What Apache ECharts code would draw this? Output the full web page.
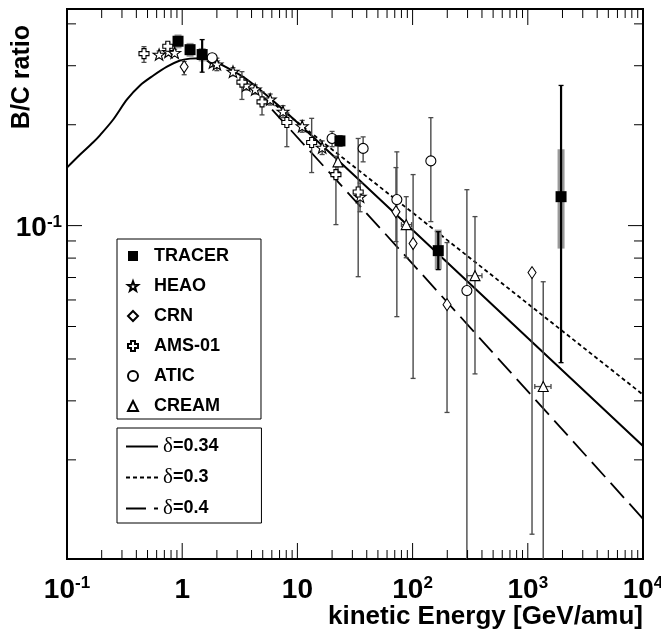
<!DOCTYPE html>
<html><head><meta charset="utf-8">
<script src="https://cdn.jsdelivr.net/npm/echarts@6/dist/echarts.min.js"></script>
<style>html,body{margin:0;padding:0;background:#fff}#c{width:661px;height:635px}</style>
</head><body><div id="c"></div>
<script>
const FONT = '"Liberation Sans", Arial, Helvetica, sans-serif';

// ---- axis ticks and labels ----
const xMajorTicks = [0.1, 1, 10, 100, 1000, 10000];
const xTickLabels = ['{b|10}{s|-1}', '{b|1}', '{b|10}', '{b|10}{s|2}', '{b|10}{s|3}', '{b|10}{s|4}'];
const xMinorTicks = [0.2,0.3,0.4,0.5,0.6,0.7,0.8,0.9, 2,3,4,5,6,7,8,9, 20,30,40,50,60,70,80,90,
  200,300,400,500,600,700,800,900, 2000,3000,4000,5000,6000,7000,8000,9000];
const yMajorTicks = [0.1];
const yTickLabels = ['{b|10}{s|-1}'];
const yMinorTicks = [0.02,0.03,0.04,0.05,0.06,0.07,0.08,0.09,0.2,0.3,0.4];

// ---- TRACER ----
const tracerE     = [0.92, 1.17, 1.49, 23.4, 167, 1944];
const tracerR     = [0.355, 0.335, 0.324, 0.179, 0.0842, 0.122];
const tracerStatLo = [0.347, 0.327, 0.287, 0.173, 0.0739, 0.039];
const tracerStatHi = [0.363, 0.343, 0.359, 0.185, 0.0959, 0.262];
const tracerSysLo  = [0.338, 0.319, 0.309, 0.172, 0.0739, 0.0854];
const tracerSysHi  = [0.372, 0.351, 0.339, 0.186, 0.0973, 0.169];

// ---- HEAO ----
const heaoE  = [0.63, 0.76, 0.86, 1.85, 2.0, 2.76, 3.6, 4.3, 5.8, 7.5, 11.0, 16.4, 35];
const heaoR  = [0.324, 0.330, 0.328, 0.307, 0.303, 0.288, 0.262, 0.255, 0.238, 0.219, 0.198, 0.171, 0.122];
const heaoLo = [0.316, 0.322, 0.320, 0.298, 0.290, 0.280, 0.254, 0.247, 0.229, 0.210, 0.190, 0.163, 0.110];
const heaoHi = [0.332, 0.338, 0.336, 0.316, 0.316, 0.296, 0.270, 0.263, 0.247, 0.228, 0.206, 0.179, 0.134];

// ---- CRN ----
const crnE  = [1.04, 71.7, 101, 199, 1088];
const crnR  = [0.298, 0.110, 0.0884, 0.0581, 0.0724];
const crnLo = [0.282, 0.0896, 0.0350, 0.0277, 0.0120];
const crnHi = [0.309, 0.149, 0.142, 0.0890, 0.0724];

// ---- AMS-01 ----
const amsE  = [0.466, 0.75, 3.3, 4.93, 8.1, 13.3, 21.6, 33.7];
const amsR  = [0.326, 0.343, 0.268, 0.234, 0.203, 0.177, 0.142, 0.126];
const amsLo = [0.307, 0.332, 0.238, 0.214, 0.172, 0.144, 0.1007, 0.0704];
const amsHi = [0.342, 0.351, 0.288, 0.251, 0.217, 0.209, 0.161, 0.182];

// ---- ATIC ----
const aticE  = [1.82, 20.0, 37.2, 73.0, 144, 296];
const aticR  = [0.317, 0.182, 0.170, 0.1196, 0.156, 0.064];
const aticLo = [0.309, 0.172, 0.155, 0.0535, 0.1028, 0.005];
const aticHi = [0.326, 0.191, 0.184, 0.166, 0.210, 0.128];

// ---- CREAM ----
const creamE   = [22.5, 88, 348, 1361];
const creamR   = [0.155, 0.1007, 0.0709, 0.0331];
const creamLo  = [0.145, 0.0802, 0.0361, 0.005];
const creamHi  = [0.174, 0.122, 0.1064, 0.068];
const creamELo = [0, 80, 296, 1150];
const creamEHi = [0, 98, 400, 1590];

// ---- model curves ----
const model034E = [0.1, 0.13, 0.168, 0.193, 0.251, 0.332, 0.43, 0.558, 0.738, 0.957, 1.17, 1.43, 1.74, 2.45, 3.65, 6.14, 10.5, 100, 1000, 10000];
const model034R = [0.149, 0.163, 0.177, 0.186, 0.207, 0.238, 0.262, 0.280, 0.298, 0.311, 0.315, 0.316, 0.313, 0.296, 0.273, 0.236, 0.200, 0.0970, 0.0462, 0.0220];
const model030E = [5.78, 100, 10000];
const model030R = [0.236, 0.1093, 0.0313];
const model040E = [6.03, 100, 10000];
const model040R = [0.222, 0.0769, 0.01334];

function zip(...cols) { return cols[0].map((_, i) => cols.map(c => c[i])); }

const STAR = 'path://M50,0 L61.76,33.82 L97.55,34.55 L69.02,56.18 L79.39,90.45 L50,70 L20.61,90.45 L30.98,56.18 L2.45,34.55 L38.24,33.82 Z';
const CROSS = 'path://M3,0H7V3H10V7H7V10H3V7H0V3H3Z';

function errRender(color, width, cap) {
  return function (params, api) {
    const cs = params.coordSys;
    const top = cs.y, bot = cs.y + cs.height;
    const xv = api.value(0);
    const p = api.coord([xv, api.value(1)]);
    const pHi = api.coord([xv, api.value(3)]);
    const pLo = api.coord([xv, api.value(2)]);
    const y1 = Math.max(top, pHi[1]), y2 = Math.min(bot, pLo[1]);
    const st = { stroke: color, lineWidth: width };
    const ch = [{ type: 'line', shape: { x1: p[0], y1: y1, x2: p[0], y2: y2 }, style: st }];
    if (cap) {
      const cst = { stroke: color, lineWidth: 1.3 };
      if (pHi[1] >= top && pHi[1] < p[1] - 1) ch.push({ type: 'line', shape: { x1: p[0] - cap, y1: pHi[1], x2: p[0] + cap, y2: pHi[1] }, style: cst });
      if (pLo[1] <= bot && pLo[1] > p[1] + 1) ch.push({ type: 'line', shape: { x1: p[0] - cap, y1: pLo[1], x2: p[0] + cap, y2: pLo[1] }, style: cst });
    }
    const xl = api.value(4), xh = api.value(5);
    if (xl > 0 && xh > 0) {
      const a = api.coord([xl, api.value(1)]), b = api.coord([xh, api.value(1)]);
      const hs = { stroke: color, lineWidth: 1.3 };
      ch.push({ type: 'line', shape: { x1: a[0], y1: a[1], x2: b[0], y2: b[1] }, style: hs });
      ch.push({ type: 'line', shape: { x1: a[0], y1: a[1] - 2.5, x2: a[0], y2: a[1] + 2.5 }, style: hs });
      ch.push({ type: 'line', shape: { x1: b[0], y1: b[1] - 2.5, x2: b[0], y2: b[1] + 2.5 }, style: hs });
    }
    return { type: 'group', children: ch };
  };
}

function errSeries(name, data, color, width, cap, z) {
  return {
    type: 'custom', name: name, data: data, z: z, silent: true,
    dimensions: ['e', 'r', 'lo', 'hi', 'elo', 'ehi'],
    encode: { x: 0, y: 1 },
    renderItem: errRender(color, width, cap)
  };
}

function markSeries(name, e, r, symbol, size, fill) {
  return {
    type: 'scatter', name: name, data: zip(e, r), symbol: symbol, symbolSize: size, z: 6, silent: true,
    symbolKeepAspect: true,
    itemStyle: { color: fill, borderColor: '#000', borderWidth: fill === '#000' ? 0 : 1.1, opacity: 1 }
  };
}

const GRAY = '#4a4a4a';
const zeros = n => new Array(n).fill(0);

const chart = echarts.init(document.getElementById('c'));
chart.setOption({
  animation: false,
  backgroundColor: '#fff',
  grid: { left: 67, top: 9, width: 576, height: 550, show: true, borderColor: '#000', borderWidth: 2,
          backgroundColor: 'transparent', containLabel: false, outerBoundsMode: 'none' },
  xAxis: {
    type: 'log', logBase: 10, min: 0.1, max: 10000,
    axisLine: { show: false }, axisTick: { show: false }, splitLine: { show: false }, minorTick: { show: false },
    axisLabel: {
      margin: 16, showMinLabel: true, showMaxLabel: true, hideOverlap: false,
      formatter: v => { const i = xMajorTicks.findIndex(t => Math.abs(Math.log10(t) - Math.log10(v)) < 1e-6); return i >= 0 ? xTickLabels[i] : ''; },
      rich: {
        b: { fontSize: 28, fontWeight: 'bold', fontFamily: FONT, lineHeight: 30, color: '#000' },
        s: { fontSize: 17, fontWeight: 'bold', fontFamily: FONT, lineHeight: 10, verticalAlign: 'top', color: '#000' }
      }
    },
    name: 'kinetic Energy [GeV/amu]', nameLocation: 'end', nameGap: 0, nameMoveOverlap: false,
    nameTextStyle: { fontSize: 26, fontWeight: 'bold', fontFamily: FONT, color: '#000', align: 'right', verticalAlign: 'top', padding: [45, 0, 0, 0] }
  },
  yAxis: {
    type: 'log', logBase: 10, min: 0.01012, max: 0.443,
    axisLine: { show: false }, axisTick: { show: false }, splitLine: { show: false }, minorTick: { show: false },
    axisLabel: {
      margin: 5, padding: [6, 0, 0, 0], showMinLabel: true, showMaxLabel: true, hideOverlap: false,
      formatter: v => { const i = yMajorTicks.findIndex(t => Math.abs(Math.log10(t) - Math.log10(v)) < 1e-6); return i >= 0 ? yTickLabels[i] : ''; },
      rich: {
        b: { fontSize: 28, fontWeight: 'bold', fontFamily: FONT, lineHeight: 30, color: '#000' },
        s: { fontSize: 17, fontWeight: 'bold', fontFamily: FONT, lineHeight: 10, verticalAlign: 'top', color: '#000' }
      }
    },
    name: 'B/C ratio', nameLocation: 'end', nameRotate: 90, nameGap: -16, nameMoveOverlap: false,
    nameTextStyle: { fontSize: 25, fontWeight: 'bold', fontFamily: FONT, color: '#000', align: 'right', verticalAlign: 'bottom', padding: [0, 0, 32, 0] }
  },
  legend: [
    {
      data: ['TRACER', 'HEAO', 'CRN', 'AMS-01', 'ATIC', 'CREAM'],
      orient: 'vertical', left: 117, top: 239, itemWidth: 10, itemHeight: 10, itemGap: 10,
      padding: [7, 32, 3, 10], borderColor: '#000', borderWidth: 1, selectedMode: false, symbolKeepAspect: true,
      formatter: n => '{t|' + n + '}',
      textStyle: {
        fontSize: 18, lineHeight: 20, color: '#000',
        rich: { t: { fontSize: 18, fontWeight: 'bold', fontFamily: FONT, lineHeight: 20, color: '#000', padding: [0, 0, 0, 11] } }
      }
    },
    {
      data: ['δ=0.34', 'δ=0.3', 'δ=0.4'],
      orient: 'vertical', left: 117, top: 428, itemWidth: 32, itemHeight: 10, itemGap: 10,
      padding: [8, 43, 4, 8], borderColor: '#000', borderWidth: 1, selectedMode: false,
      itemStyle: { opacity: 0 },
      lineStyle: { opacity: 1 },
      formatter: n => '{d|δ}{v|' + n.slice(1) + '}',
      textStyle: {
        fontSize: 18, lineHeight: 20, color: '#000',
        rich: {
          d: { fontSize: 21, fontFamily: '"Liberation Serif", "DejaVu Serif", serif', color: '#000', lineHeight: 20 },
          v: { fontSize: 18, fontWeight: 'bold', fontFamily: FONT, color: '#000', lineHeight: 20 }
        }
      }
    }
  ],
  series: [
    // frame ticks
    {
      type: 'custom', name: 'xticks', silent: true, z: 10,
      data: xMajorTicks.map(v => [v, 0.1, 1]).concat(xMinorTicks.map(v => [v, 0.1, 0])),
      encode: { x: 0, y: 1 },
      renderItem: (params, api) => {
        const cs = params.coordSys; const x = api.coord([api.value(0), 0.1])[0]; const L = api.value(2) ? 16 : 9;
        const st = { stroke: '#000', lineWidth: 1 };
        return { type: 'group', children: [
          { type: 'line', shape: { x1: x, y1: cs.y + cs.height, x2: x, y2: cs.y + cs.height - L }, style: st },
          { type: 'line', shape: { x1: x, y1: cs.y, x2: x, y2: cs.y + L }, style: st }
        ] };
      }
    },
    {
      type: 'custom', name: 'yticks', silent: true, z: 10,
      data: yMajorTicks.map(v => [1, v, 1]).concat(yMinorTicks.map(v => [1, v, 0])),
      encode: { x: 0, y: 1 },
      renderItem: (params, api) => {
        const cs = params.coordSys; const y = api.coord([1, api.value(1)])[1]; const L = api.value(2) ? 15 : 9;
        const st = { stroke: '#000', lineWidth: 1 };
        return { type: 'group', children: [
          { type: 'line', shape: { x1: cs.x, y1: y, x2: cs.x + L, y2: y }, style: st },
          { type: 'line', shape: { x1: cs.x + cs.width, y1: y, x2: cs.x + cs.width - L, y2: y }, style: st }
        ] };
      }
    },
    // model curves
    { type: 'line', name: 'δ=0.34', data: zip(model034E, model034R), symbol: 'none', smooth: 0.3, z: 2, silent: true,
      lineStyle: { color: '#000', width: 2, type: 'solid' }, itemStyle: { color: '#000' } },
    { type: 'line', name: 'δ=0.3', data: zip(model030E, model030R), symbol: 'none', z: 2, silent: true,
      lineStyle: { color: '#000', width: 1.8, type: [4, 3] }, itemStyle: { color: '#000' } },
    { type: 'line', name: 'δ=0.4', data: zip(model040E, model040R), symbol: 'none', z: 2, silent: true,
      lineStyle: { color: '#000', width: 1.8, type: [20, 8] }, itemStyle: { color: '#000' } },
    // error bars
    errSeries('HEAO-err', zip(heaoE, heaoR, heaoLo, heaoHi, zeros(heaoE.length), zeros(heaoE.length)), GRAY, 1.4, 2.5, 3),
    errSeries('CRN-err', zip(crnE, crnR, crnLo, crnHi, zeros(crnE.length), zeros(crnE.length)), GRAY, 1.4, 2.5, 3),
    errSeries('AMS-err', zip(amsE, amsR, amsLo, amsHi, zeros(amsE.length), zeros(amsE.length)), GRAY, 1.4, 2.5, 3),
    errSeries('ATIC-err', zip(aticE, aticR, aticLo, aticHi, zeros(aticE.length), zeros(aticE.length)), GRAY, 1.4, 2.5, 3),
    errSeries('CREAM-err', zip(creamE, creamR, creamLo, creamHi, creamELo, creamEHi), GRAY, 1.4, 2.5, 3),
    errSeries('TRACER-sys', zip(tracerE, tracerR, tracerSysLo, tracerSysHi, zeros(tracerE.length), zeros(tracerE.length)), '#9a9a9a', 7, 0, 3),
    errSeries('TRACER-stat', zip(tracerE, tracerR, tracerStatLo, tracerStatHi, zeros(tracerE.length), zeros(tracerE.length)), '#000', 2.2, 2.5, 4),
    // markers
    markSeries('HEAO', heaoE, heaoR, STAR, 12, '#fff'),
    markSeries('CRN', crnE, crnR, 'diamond', [8, 12], '#fff'),
    markSeries('AMS-01', amsE, amsR, CROSS, 10, '#fff'),
    markSeries('ATIC', aticE, aticR, 'circle', 10, '#fff'),
    markSeries('CREAM', creamE, creamR, 'triangle', 10, '#fff'),
    markSeries('TRACER', tracerE, tracerR, 'rect', 11, '#000')
  ]
});
</script>
</body></html>
